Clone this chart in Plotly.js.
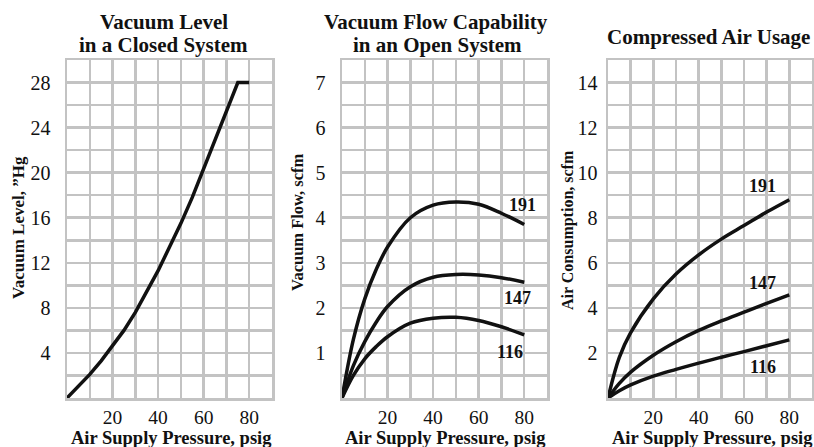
<!DOCTYPE html>
<html>
<head>
<meta charset="utf-8">
<script src="https://cdn.plot.ly/plotly-3.0.1.min.js"></script>
<style>
  html, body { margin: 0; padding: 0; background: #ffffff; }
  #chart { width: 814px; height: 447px; }
</style>
</head>
<body>
<div id="chart"></div>
<script>
// ---------- data ----------
const pressure = [0, 5, 10, 15, 20, 25, 30, 35, 40, 45, 50, 55, 60, 65, 70, 75, 80];
const vacuumLevel = [0, 1.0, 2.1, 3.3, 4.6, 6.0, 7.6, 9.4, 11.3, 13.4, 15.5, 17.8, 20.3, 22.8, 25.4, 28, 28];

const flowPressure = [0, 5, 10, 15, 20, 30, 40, 50, 60, 70, 80];
const flow191 = [0, 1.3, 2.2, 2.85, 3.35, 4.0, 4.28, 4.35, 4.3, 4.1, 3.85];
const flow147 = [0, 0.72, 1.25, 1.68, 2.03, 2.47, 2.68, 2.74, 2.73, 2.67, 2.57];
const flow116 = [0, 0.5, 0.87, 1.14, 1.36, 1.66, 1.77, 1.79, 1.72, 1.58, 1.4];

const usePressure = [0, 5, 10, 20, 30, 40, 50, 60, 70, 80];
const use191 = [0, 1.8, 2.9, 4.4, 5.5, 6.35, 7.05, 7.65, 8.25, 8.8];
const use147 = [0, 0.65, 1.15, 1.9, 2.5, 3.0, 3.42, 3.81, 4.2, 4.58];
const use116 = [0, 0.32, 0.58, 0.97, 1.27, 1.55, 1.81, 2.06, 2.32, 2.58];

const seriesNames = ['191', '147', '116'];
const flowLabelX = [79.4, 77.2, 73.7];
const flowLabelY = [4.29, 2.22, 1.02];
const useLabelX = [68.3, 68.3, 68.3];
const useLabelY = [9.4, 5.1, 1.38];

const xTickLabels = [20, 40, 60, 80];
const yTicks1 = [4, 8, 12, 16, 20, 24, 28];
const yTicks2 = [1, 2, 3, 4, 5, 6, 7];
const yTicks3 = [2, 4, 6, 8, 10, 12, 14];

const titles = [['Vacuum Level', 'in a Closed System'], ['Vacuum Flow Capability', 'in an Open System'], ['Compressed Air Usage']];
const xTitle = 'Air Supply Pressure, psig';
const yTitles = ['Vacuum Level, ”Hg', 'Vacuum Flow, scfm', 'Air Consumption, scfm'];

// ---------- helpers ----------
const W = 814, H = 447;
const px = v => v / W;
const py = v => 1 - v / H;
const SERIF = '"Liberation Serif", "Times New Roman", Times, serif';
const GRID = '#c3c3c3';
const INK = '#111111';

function gridVals(max, step) {
  const out = [];
  for (let v = 0; v <= max + 1e-9; v += step) out.push(+v.toFixed(4));
  return out;
}
function makeText(vals, labels) {
  return vals.map(v => labels.some(l => Math.abs(l - v) < 1e-9) ? String(v) : '');
}

const xGrid = gridVals(90, 10);
function xAxis(domain, anchor) {
  return {
    domain: domain, anchor: anchor, range: [0, 90],
    tickmode: 'array', tickvals: xGrid, ticktext: makeText(xGrid, xTickLabels),
    showgrid: true, gridcolor: GRID, gridwidth: 2.5,
    zeroline: false, showline: true, linecolor: GRID, linewidth: 2.5, mirror: true,
    ticks: '', ticklabelstandoff: 0,
    tickfont: {family: SERIF, size: 19.5, color: INK}, fixedrange: true
  };
}
function yAxis(domain, anchor, max, step, labels, standoff) {
  const vals = gridVals(max, step);
  return {
    domain: domain, anchor: anchor, range: [0, max],
    tickmode: 'array', tickvals: vals, ticktext: makeText(vals, labels),
    showgrid: true, gridcolor: GRID, gridwidth: 2.5,
    zeroline: false, showline: true, linecolor: GRID, linewidth: 2.5, mirror: true,
    ticks: '', ticklabelstandoff: standoff,
    tickfont: {family: SERIF, size: 20, color: INK}, fixedrange: true
  };
}

const yDom = [1 - 398 / H, 1 - 60 / H];
const line = {color: INK, width: 3.5, shape: 'spline', smoothing: 1};

const traces = [
  {x: pressure, y: vacuumLevel, xaxis: 'x', yaxis: 'y', mode: 'lines',
   line: {color: INK, width: 3.5, shape: 'linear'}, hoverinfo: 'skip'},
  {x: flowPressure, y: flow191, xaxis: 'x2', yaxis: 'y2', mode: 'lines', line: line, hoverinfo: 'skip'},
  {x: flowPressure, y: flow147, xaxis: 'x2', yaxis: 'y2', mode: 'lines', line: line, hoverinfo: 'skip'},
  {x: flowPressure, y: flow116, xaxis: 'x2', yaxis: 'y2', mode: 'lines', line: line, hoverinfo: 'skip'},
  {x: usePressure, y: use191, xaxis: 'x3', yaxis: 'y3', mode: 'lines', line: line, hoverinfo: 'skip'},
  {x: usePressure, y: use147, xaxis: 'x3', yaxis: 'y3', mode: 'lines', line: line, hoverinfo: 'skip'},
  {x: usePressure, y: use116, xaxis: 'x3', yaxis: 'y3', mode: 'lines', line: line, hoverinfo: 'skip'}
];

const ann = [];
function paperText(text, x, y, size, angle) {
  ann.push({text: '<b>' + text + '</b>', xref: 'paper', yref: 'paper', x: px(x), y: py(y),
    xanchor: 'center', yanchor: 'middle', showarrow: false, textangle: angle || 0,
    font: {family: SERIF, size: size, color: INK}});
}
// panel titles
paperText(titles[0][0], 164, 22, 21);
paperText(titles[0][1], 163, 45, 21);
paperText(titles[1][0], 436, 22, 21);
paperText(titles[1][1], 437, 45, 21);
paperText(titles[2][0], 708, 37, 21);
// x axis titles
paperText(xTitle, 171, 438, 18.5);
paperText(xTitle, 445, 438, 18.5);
paperText(xTitle, 712, 438, 18.5);
// y axis titles
paperText(yTitles[0], 18, 228, 17, -90);
paperText(yTitles[1], 298, 222, 16.5, -90);
paperText(yTitles[2], 568, 230, 16, -90);
// curve labels
seriesNames.forEach((n, i) => {
  ann.push({text: '<b>' + n + '</b>', xref: 'x2', yref: 'y2', x: flowLabelX[i], y: flowLabelY[i],
    xanchor: 'center', yanchor: 'middle', showarrow: false, font: {family: SERIF, size: 18, color: INK}});
  ann.push({text: '<b>' + n + '</b>', xref: 'x3', yref: 'y3', x: useLabelX[i], y: useLabelY[i],
    xanchor: 'center', yanchor: 'middle', showarrow: false, font: {family: SERIF, size: 18, color: INK}});
});

const layout = {
  width: W, height: H,
  margin: {l: 0, r: 0, t: 0, b: 0},
  paper_bgcolor: '#ffffff', plot_bgcolor: '#ffffff',
  showlegend: false,
  xaxis: xAxis([px(67), px(272)], 'y'),
  yaxis: yAxis(yDom, 'x', 30, 2, yTicks1, 10),
  xaxis2: xAxis([px(342), px(547)], 'y2'),
  yaxis2: yAxis(yDom, 'x2', 7.5, 0.5, yTicks2, 10),
  xaxis3: xAxis([px(608), px(812)], 'y3'),
  yaxis3: yAxis(yDom, 'x3', 15, 1, yTicks3, 4),
  annotations: ann
};

Plotly.newPlot('chart', traces, layout, {displayModeBar: false, staticPlot: true});
</script>
</body>
</html>
